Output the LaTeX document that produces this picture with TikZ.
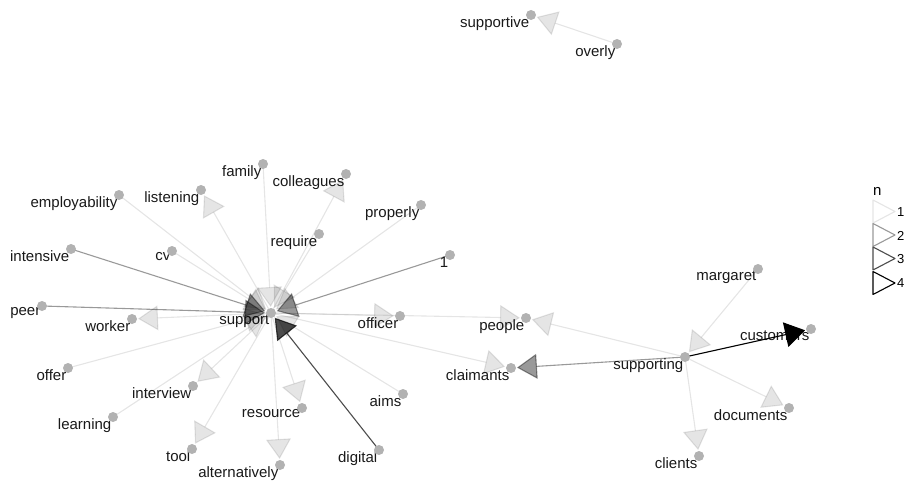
\documentclass[tikz,border=0pt]{standalone}
\usepackage{fontspec}
\setmainfont{Liberation Sans}
\usetikzlibrary{arrows.meta}
\tikzset{>={Triangle[length=20pt,width=25pt]}}

\begin{document}
\begin{tikzpicture}[x=1pt, y=-1pt,
                    line cap=round, line join=round,
                    word/.style={anchor=north east, inner sep=1.5pt, font=\fontsize{15}{18}\selectfont, text=black!90},
                    dot/.style={circle, fill=black!30, inner sep=0pt, minimum size=10pt},
                    link/.style={->, line width=1.1pt, shorten >=6pt},
                    n1/.style={link, opacity=0.1},
                    n2/.style={link, opacity=0.4},
                    n3/.style={link, opacity=0.7},
                    n4/.style={link, opacity=1},
                    key/.style={line width=1.1pt}]
  \clip (0,0) rectangle (905,484);

  % word positions
  \coordinate (supportive) at (531,15);
  \coordinate (overly) at (617,44);
  \coordinate (family) at (263,164);
  \coordinate (colleagues) at (346,174);
  \coordinate (employability) at (119,195);
  \coordinate (listening) at (201,190);
  \coordinate (properly) at (421,205);
  \coordinate (require) at (319,234);
  \coordinate (intensive) at (71,249);
  \coordinate (cv) at (172,251);
  \coordinate (one) at (450,255);
  \coordinate (margaret) at (758,269);
  \coordinate (peer) at (42,306);
  \coordinate (worker) at (132,319);
  \coordinate (support) at (271,313);
  \coordinate (officer) at (400,316);
  \coordinate (people) at (526,318);
  \coordinate (customers) at (811,329);
  \coordinate (supporting) at (685,357);
  \coordinate (claimants) at (511,368);
  \coordinate (offer) at (68,368);
  \coordinate (interview) at (193,386);
  \coordinate (aims) at (403,394);
  \coordinate (resource) at (302,408);
  \coordinate (documents) at (789,408);
  \coordinate (learning) at (113,417);
  \coordinate (tool) at (192,449);
  \coordinate (digital) at (379,450);
  \coordinate (alternatively) at (280,465);
  \coordinate (clients) at (699,456);

  % labels
  \foreach \w/\t in {supportive/supportive, overly/overly, family/family,
      colleagues/colleagues, employability/employability, listening/listening,
      properly/properly, require/require, intensive/intensive, cv/cv, one/1,
      margaret/margaret, peer/peer, worker/worker, support/support,
      officer/officer, people/people, customers/customers,
      supporting/supporting, claimants/claimants, offer/offer,
      interview/interview, aims/aims, resource/resource, documents/documents,
      learning/learning, tool/tool, digital/digital,
      alternatively/alternatively, clients/clients}
    \node[word] (\w-txt) at (\w) {\t};

  % edges
  \draw[n1] (overly) -- (supportive);
  \draw[n1] (margaret) -- (supporting);
  \draw[n4] (supporting) -- (customers);
  \draw[n1] (supporting) -- (documents);
  \draw[n1] (supporting) -- (clients);
  \draw[n2] (supporting) -- (claimants);
  \draw[n1] (supporting) -- (people);
  \draw[n1] (support) -- (people);
  \draw[n1] (support) -- (claimants);
  \draw[n1] (support) -- (officer);
  \draw[n1] (support) -- (worker);
  \draw[n1] (support) -- (listening);
  \draw[n1] (support) -- (colleagues);
  \draw[n1] (support) -- (interview);
  \draw[n1] (support) -- (tool);
  \draw[n1] (support) -- (resource);
  \draw[n1] (support) -- (alternatively);
  \draw[n1] (employability) -- (support);
  \draw[n1] (family) -- (support);
  \draw[n1] (require) -- (support);
  \draw[n1] (properly) -- (support);
  \draw[n1] (cv) -- (support);
  \draw[n1] (offer) -- (support);
  \draw[n1] (learning) -- (support);
  \draw[n1] (aims) -- (support);
  \draw[n2] (intensive) -- (support);
  \draw[n2] (peer) -- (support);
  \draw[n2] (one) -- (support);
  \draw[n3] (digital) -- (support);

  % dots
  \foreach \w in {supportive, overly, family, colleagues, employability,
      listening, properly, require, intensive, cv, one, margaret, peer, worker,
      support, officer, people, customers, supporting, claimants, offer,
      interview, aims, resource, documents, learning, tool, digital,
      alternatively, clients}
    \node[dot] (\w-pt) at (\w) {};

  % legend
  \node[anchor=base west, inner sep=0pt, font=\fontsize{15}{17}\selectfont] (legend-title) at (873,195) {n};
  \foreach \k/\a/\y in {1/0.1/200, 2/0.4/223.5, 3/0.7/247, 4/1/271.5} {
    \draw[key, opacity=\a] (873,\y) -- (895,\y+11.5) -- (873,\y+23) -- cycle;
    \node[anchor=west, inner sep=0pt, font=\fontsize{13}{15}\selectfont] (key-\k) at (897,\y+12) {\k};
  }
\end{tikzpicture}
\end{document}
